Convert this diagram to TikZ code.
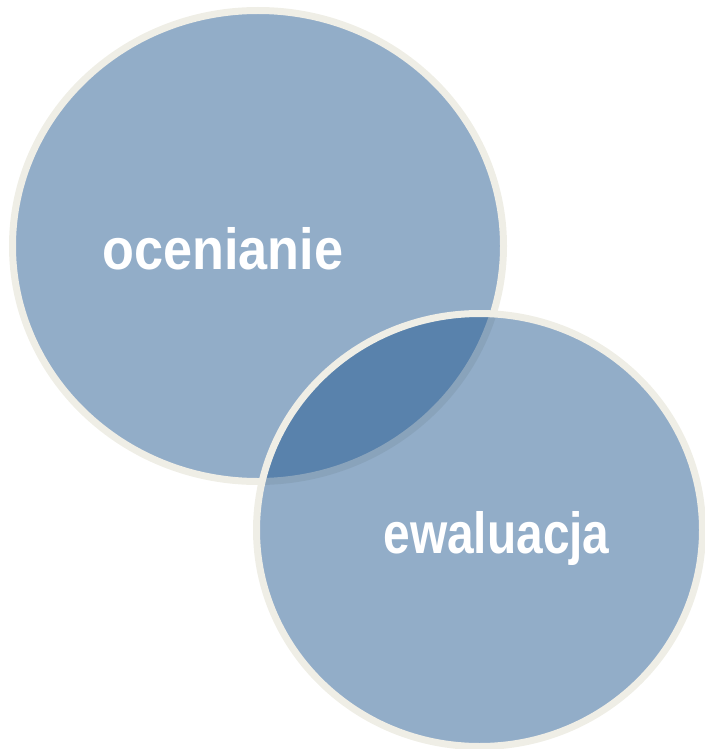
\documentclass[tikz,border=0pt]{standalone}
\usepackage{fontspec}
\setmainfont{Liberation Sans}
\usetikzlibrary{shapes.geometric}
\definecolor{circfill}{RGB}{27,83,141}
\definecolor{circline}{RGB}{239,238,230}
\tikzset{
  venn/.style={ellipse, inner sep=0pt, draw=circline, line width=7pt, fill=circfill, fill opacity=0.48, draw opacity=1},
  vlabel/.style={anchor=base, text=white, font=\fontsize{58}{60}\selectfont\bfseries, inner sep=0pt}
}
\begin{document}
\begin{tikzpicture}[x=1pt,y=-1pt]
\useasboundingbox (0,0) rectangle (704,749);
\node[venn, minimum width=491pt, minimum height=471pt] (c1) at (258,246) {};
\node[venn, minimum width=446pt, minimum height=433pt] (c2) at (479.5,530) {};
\node[vlabel] (t1) at (223,269) {\scalebox{0.9}[1]{ocenianie}};
\node[vlabel] (t2) at (496.5,553) {\scalebox{0.825}[1]{ewaluacja}};
\end{tikzpicture}
\end{document}
